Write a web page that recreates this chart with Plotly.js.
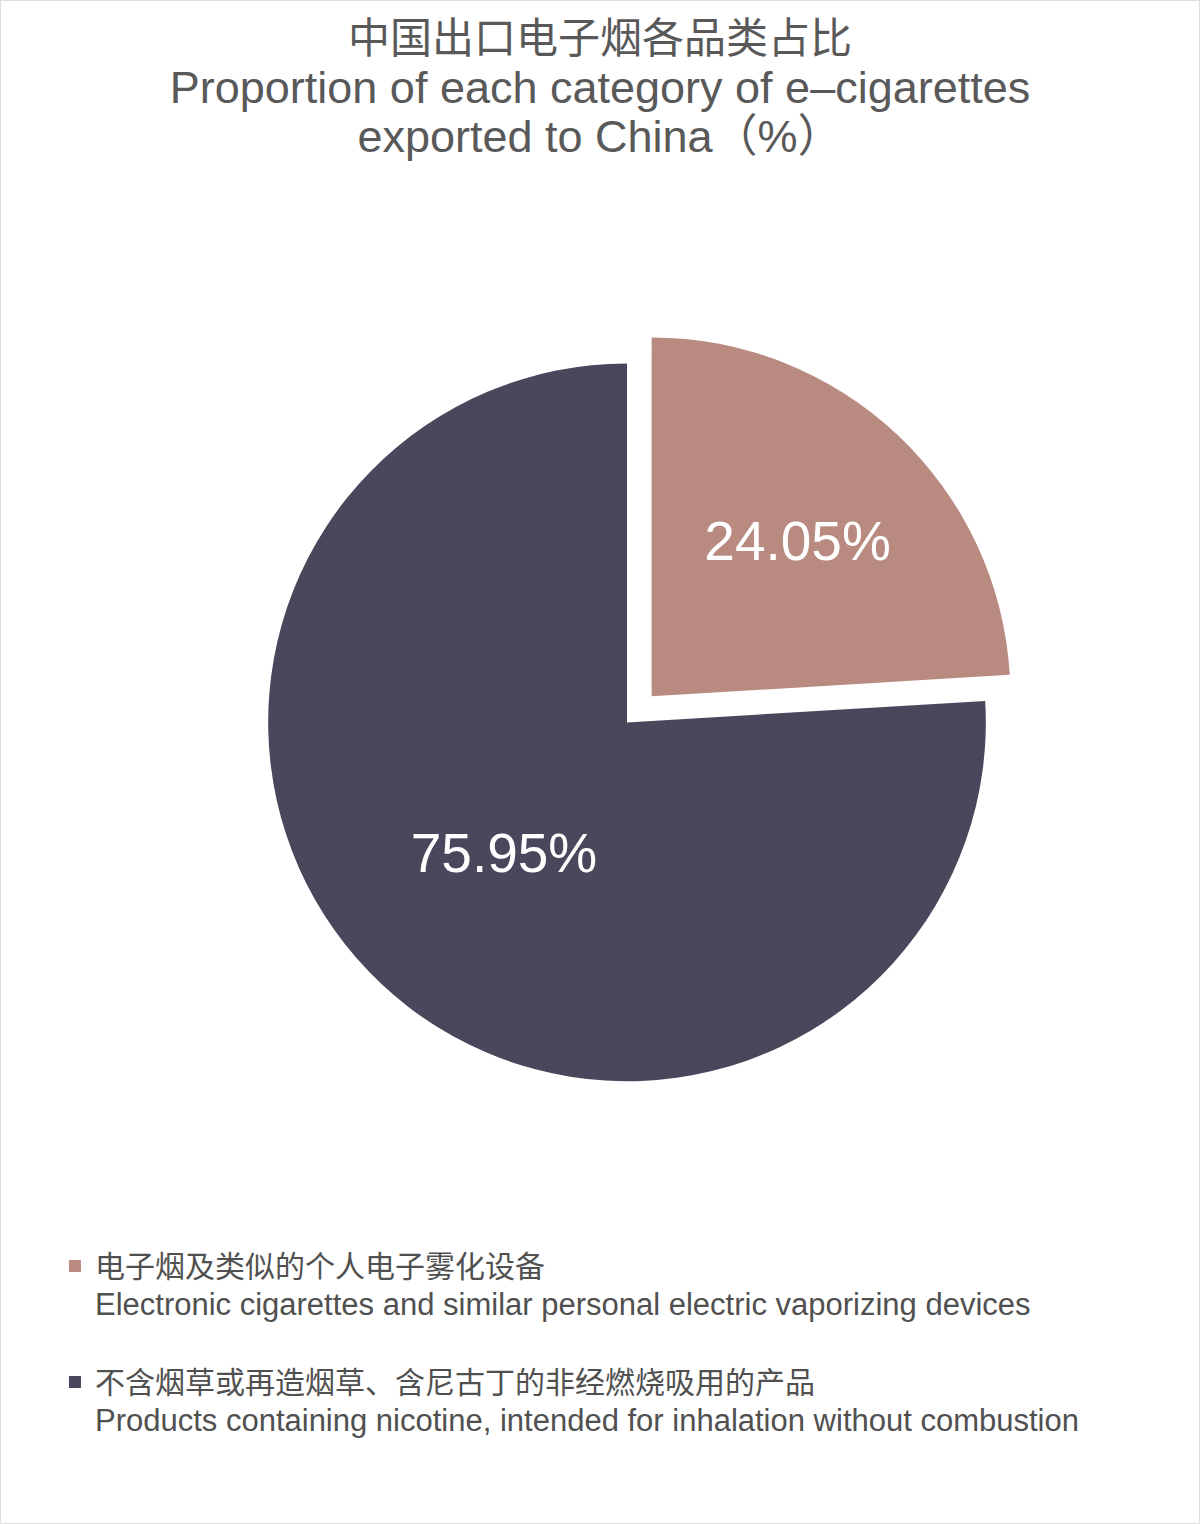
<!DOCTYPE html>
<html>
<head>
<meta charset="utf-8">
<script src="https://cdn.plot.ly/plotly-3.0.1.min.js"></script>
<style>
  html, body { margin: 0; padding: 0; background: #ffffff; }
  #chart { width: 1200px; height: 1524px; }
</style>
</head>
<body>
<div id="chart"></div>
<script>
// 中国出口电子烟各品类占比
var labelsCn = ["电子烟及类似的个人电子雾化设备", "不含烟草或再造烟草、含尼古丁的非经燃烧吸用的产品"];
var labelsEn = ["Electronic cigarettes and similar personal electric vaporizing devices",
                "Products containing nicotine, intended for inhalation without combustion"];
var shares = [24.05, 75.95];
var colours = ["#B98A80", "#4A475C"];
var pulls = [0.1, 0];

var titleCn = "中国出口电子烟各品类占比";
var titleEn1 = "Proportion of each category of e–cigarettes";
var titleEn2 = "exported to China（%）";

var fontFam = "'Liberation Sans', Arial, 'Noto Sans CJK SC', sans-serif";

var legendLabels = [];
for (var i = 0; i < labelsCn.length; i++) {
	legendLabels.push("<span style='font-size:30px'>" + labelsCn[i] + "</span><br>" +
		"<span style='font-size:31px'>" + labelsEn[i] + "</span><br> ");
}

var trace = {
	type: "pie",
	labels: legendLabels,
	values: shares,
	sort: false,
	direction: "clockwise",
	rotation: 0,
	pull: pulls,
	marker: { colors: colours, line: { width: 0 } },
	texttemplate: "%{value:.2f}%",
	textposition: "inside",
	insidetextorientation: "horizontal",
	textfont: { family: fontFam, size: 55, color: "#ffffff" },
	hoverinfo: "none",
	domain: { x: [0.193, 0.852], y: [0.267, 0.785] }
};

var layout = {
	width: 1200,
	height: 1524,
	margin: { l: 0, r: 0, t: 0, b: 0 },
	paper_bgcolor: "#ffffff",
	font: { family: fontFam, color: "#555555" },
	title: {
		text: "<span style='font-size:42px'>" + titleCn + "</span><br>" +
			"<span style='font-size:45px'>" + titleEn1 + "</span><br>" +
			"<span style='font-size:45px'>" + titleEn2 + "</span>",
		font: { family: fontFam, size: 38, color: "#595959" },
		x: 0.5,
		xanchor: "center",
		y: 0.965,
		yanchor: "top"
	},
	showlegend: true,
	legend: {
		x: 0.0458,
		xanchor: "left",
		y: 0.186,
		yanchor: "top",
		valign: "top",
		font: { family: fontFam, size: 29, color: "#505050" },
		bgcolor: "rgba(0,0,0,0)"
	},
	shapes: [{
		type: "rect", xref: "paper", yref: "paper",
		x0: 0, x1: 1, y0: 0, y1: 1,
		line: { color: "#dddddd", width: 2 }
	}]
};

Plotly.newPlot("chart", [trace], layout, { staticPlot: true });
</script>
</body>
</html>
